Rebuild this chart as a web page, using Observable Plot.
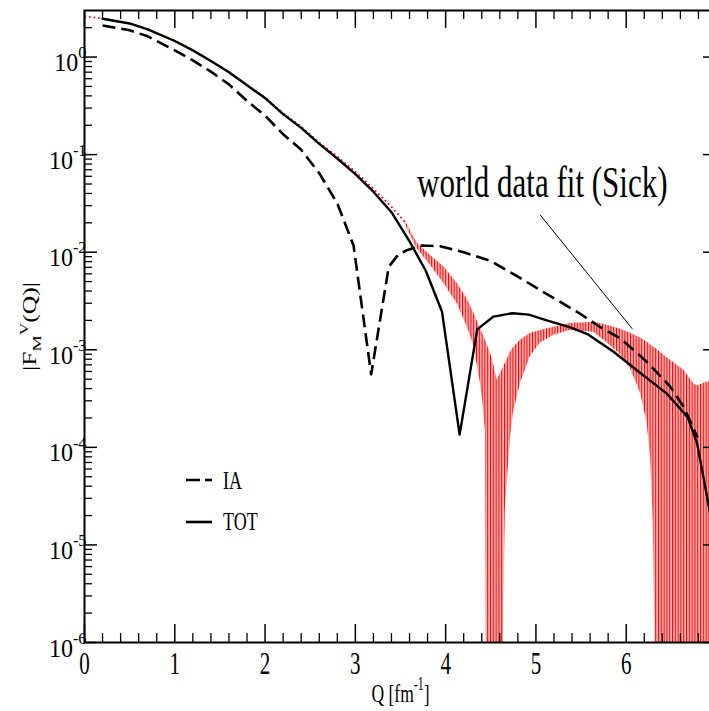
<!DOCTYPE html>
<html><head><meta charset="utf-8">
<script src="https://cdn.jsdelivr.net/npm/d3@7"></script>
<script src="https://cdn.jsdelivr.net/npm/@observablehq/plot@0.6"></script>
<style>
html,body{margin:0;padding:0;background:#fff;overflow:hidden;}
#chart{position:relative;width:709px;height:711px;overflow:hidden;}
#chart svg{max-width:none !important;}
</style></head><body><div id="chart"></div>
<script>
// ---- data ----
const totQ = [0.2,0.5,0.7,1.0,1.2,1.4,1.6,1.8,2.0,2.2,2.4,2.6,2.8,3.0,3.2,3.4,3.6,3.78,3.96,4.155,4.35,4.53,4.74,4.92,5.12,5.38,5.57,5.86,6.16,6.45,6.68,6.785,6.93,7.0];
const totF = [2.47,2.21,1.92,1.46,1.17,0.912,0.700,0.513,0.380,0.260,0.188,0.129,0.0912,0.0631,0.0417,0.0257,0.0129,0.00646,0.00245,0.000135,0.00162,0.00219,0.00237,0.00229,0.00200,0.00170,0.00145,0.000955,0.000575,0.000355,0.000204,0.000110,0.0000209,0.0000089];

const iaQ = [0.2,0.5,0.7,1.0,1.2,1.4,1.6,1.8,2.0,2.2,2.4,2.6,2.8,2.98,3.175,3.37,3.47,3.57,3.74,3.94,4.2,4.5,4.8,5.05,5.27,5.49,5.71,5.94,6.23,6.49,6.64,6.79];
const iaF = [2.11,1.88,1.63,1.17,0.925,0.708,0.525,0.355,0.251,0.162,0.112,0.0646,0.0316,0.0117,0.000560,0.00708,0.00933,0.0105,0.0117,0.0115,0.0100,0.00813,0.00562,0.00407,0.00309,0.00234,0.00171,0.00130,0.000750,0.000417,0.000257,0.000126];

const fitQ = [0.0,0.2,0.5,0.7,1.0,1.2,1.4,1.6,1.8,2.0,2.2,2.4,2.6,2.8,3.0,3.2,3.4,3.55];
const fitF = [2.62,2.48,2.21,1.93,1.47,1.18,0.916,0.703,0.519,0.385,0.266,0.193,0.133,0.0955,0.0668,0.0447,0.0292,0.0204];

const bandQ = [3.55,3.68,3.83,3.98,4.13,4.24,4.31,4.38,4.41,4.44,4.45,4.52,4.57,4.62,4.64,4.66,4.72,4.75,4.83,4.94,5.05,5.20,5.38,5.64,5.79,5.94,6.05,6.16,6.23,6.27,6.30,6.32,6.45,6.64,6.75,6.79,6.90,7.0];
const bandUpper = [0.0211,0.0126,0.00933,0.00708,0.00479,0.00331,0.00240,0.00170,0.00148,0.00126,0.00120,0.000794,0.000490,0.000603,0.000661,0.000724,0.000955,0.00105,0.00126,0.00148,0.00158,0.00170,0.00186,0.00191,0.00178,0.00162,0.00148,0.00132,0.00120,0.00112,0.00107,0.00105,0.000832,0.000617,0.000447,0.000427,0.000468,0.000468];
const bandLower = [0.0195,0.0110,0.00741,0.00479,0.00295,0.00170,0.00112,0.000490,0.000302,0.000148,1e-6,1e-6,1e-6,1e-6,1e-6,0.0000229,0.000129,0.000224,0.000457,0.000851,0.00117,0.00141,0.00158,0.00151,0.00117,0.000891,0.000631,0.000355,0.000182,0.0000794,0.0000166,1e-6,1e-6,1e-6,1e-6,1e-6,1e-6,1e-6];

const xMajor = [0,1,2,3,4,5,6,7];
const xMinor = [0.2,0.4,0.6,0.8,1.2,1.4,1.6,1.8,2.2,2.4,2.6,2.8,3.2,3.4,3.6,3.8,4.2,4.4,4.6,4.8,5.2,5.4,5.6,5.8,6.2,6.4,6.6,6.8];
const xTickVals = [0,1,2,3,4,5,6];
const xTickLabels = ["0","1","2","3","4","5","6"];
const yMajor = [1e-6,1e-5,1e-4,1e-3,1e-2,1e-1,1];
const yTickLabels = ["10^{-6}","10^{-5}","10^{-4}","10^{-3}","10^{-2}","10^{-1}","10^{0}"];
const yMinorMant = [2,3,4,5,6,7,8,9];
const yMinor = [];
for (const p of [-6,-5,-4,-3,-2,-1]) for (const m of yMinorMant) yMinor.push(m*Math.pow(10,p));
yMinor.push(2);

const xLabel = "Q [fm^{-1}]";
const yLabel = "|F_{M}^{V}(Q)|";
const annotText = ["world data fit (Sick)"];
const annotTextQ = [5.07];
const annotTextF = [0.0366];
const annotLineQ = [5.05, 6.065];
const annotLineF = [0.0239, 0.00165];
const legendLabels = ["IA","TOT"];

// ---- layout ----
const W = 720, H = 711;
const mL = 84, mR = 4, mT = 10, mB = 69;
const plotW = W - mL - mR, plotH = H - mT - mB;
const SERIF = "'Liberation Serif','Times New Roman',serif";
const NS = "http://www.w3.org/2000/svg";

const tot = totQ.map((q,i)=>({q, f: totF[i]}));
const ia = iaQ.map((q,i)=>({q, f: iaF[i]}));
const fit = fitQ.map((q,i)=>({q, f: fitF[i]}));
const band = bandQ.map((q,i)=>({q, lo: bandLower[i], hi: bandUpper[i]}));

const svg = Plot.plot({
  width: W, height: H,
  marginLeft: mL, marginRight: mR, marginTop: mT, marginBottom: mB,
  style: {fontFamily: SERIF, background: "white", overflow: "visible", maxWidth: "none"},
  x: {domain: [0, 7], axis: null},
  y: {type: "log", domain: [1e-6, 3], axis: null},
  marks: [
    Plot.areaY(band, {x: "q", y1: "lo", y2: "hi", fill: "url(#hatch)", clip: true}),
    Plot.line(fit, {x: "q", y: "f", stroke: "#ff0000", strokeWidth: 1.8, strokeDasharray: "1.6,3", strokeLinecap: "butt", clip: true}),
    Plot.line(ia, {x: "q", y: "f", stroke: "black", strokeWidth: 2.6, strokeDasharray: "13,6", strokeLinecap: "butt", clip: true}),
    Plot.line(tot, {x: "q", y: "f", stroke: "black", strokeWidth: 2.4, clip: true}),
    Plot.line(annotLineQ.map((q,i)=>({q, f: annotLineF[i]})), {x: "q", y: "f", stroke: "black", strokeWidth: 1}),
    // ticks (inward)
    Plot.ruleX(xMajor, {stroke: "black", strokeWidth: 1.5, insetTop: plotH - 18}),
    Plot.ruleX(xMinor, {stroke: "black", strokeWidth: 1.3, insetTop: plotH - 9}),
    Plot.ruleX(xMajor, {stroke: "black", strokeWidth: 1.5, insetBottom: plotH - 18}),
    Plot.ruleX(xMinor, {stroke: "black", strokeWidth: 1.3, insetBottom: plotH - 9}),
    Plot.ruleY(yMajor, {stroke: "black", strokeWidth: 1.5, insetRight: plotW - 13}),
    Plot.ruleY(yMinor, {stroke: "black", strokeWidth: 1.3, insetRight: plotW - 8}),
    Plot.ruleY(yMajor, {stroke: "black", strokeWidth: 1.5, insetLeft: plotW - 13}),
    Plot.frame({stroke: "black", strokeWidth: 2}),
    // labels
    Plot.text(xTickVals, {x: d => d, text: (d,i) => xTickLabels[i], frameAnchor: "bottom", textAnchor: "middle", lineAnchor: "bottom", dy: 31, fontSize: 21, fill: "black", ariaDescription: "xlab"}),
    Plot.text(yMajor, {y: d => d, text: (d,i) => yTickLabels[i], frameAnchor: "left", textAnchor: "end", lineAnchor: "bottom", dx: 2, dy: 14, fontSize: 24, fill: "black", ariaDescription: "ylab"}),
    Plot.text([xLabel], {text: d => d, frameAnchor: "bottom", textAnchor: "middle", lineAnchor: "bottom", dy: 59, fontSize: 17.5, fill: "black", ariaDescription: "xtitle"}),
    Plot.text([yLabel], {text: d => d, frameAnchor: "left", textAnchor: "middle", rotate: -90, lineAnchor: "middle", dx: -54, fontSize: 18, fill: "black", ariaDescription: "ytitle"}),
    Plot.text(annotText, {x: (d,i) => annotTextQ[i], y: (d,i) => annotTextF[i], text: d => d, lineAnchor: "bottom", textAnchor: "middle", fontSize: 31, fill: "black", ariaDescription: "annot"})
  ]
});
svg.style.maxWidth = "none";

// hatch pattern for the error band
const defs = document.createElementNS(NS, "defs");
defs.innerHTML = `<pattern id="hatch" patternUnits="userSpaceOnUse" x="${mL}" y="0" width="2.8" height="20"><rect width="2.8" height="20" fill="#ffbcbc"/><rect width="1.1" height="20" fill="#ff0000"/></pattern>`;
svg.insertBefore(defs, svg.firstChild);

function richText(el, str, base, supShift) {
  el.textContent = "";
  const re = /([\^_])\{([^}]*)\}|([^\^_]+)/g;
  let m, cur = 0;
  while ((m = re.exec(str))) {
    const t = document.createElementNS(NS, "tspan");
    let target = 0, fs = base;
    if (m[1] === "^") { target = -supShift * base; fs = 0.68 * base; t.textContent = m[2]; }
    else if (m[1] === "_") { target = 0.28 * base; fs = 0.72 * base; t.textContent = m[2]; }
    else t.textContent = m[3];
    t.setAttribute("font-size", fs);
    if (target !== cur) t.setAttribute("dy", target - cur);
    cur = target;
    el.appendChild(t);
  }
}
function fix(label, base, sx, sy, supShift = 0.45) {
  svg.querySelectorAll(`[aria-description="${label}"] text`).forEach(el => {
    const s = el.textContent;
    if (/[\^_]\{/.test(s)) richText(el, s, base, supShift);
    const tr = el.getAttribute("transform") || "";
    el.setAttribute("transform", `${tr} scale(${sx},${sy})`);
  });
}
fix("xlab", 21, 1, 1.48);
fix("ylab", 24, 1, 1.06, 0.5);
fix("xtitle", 17.5, 1, 1.5);
fix("ytitle", 18, 1.42, 1);
fix("annot", 31, 1, 1.45);

// legend
const lg = document.createElementNS(NS, "g");
lg.setAttribute("font-family", SERIF);
lg.setAttribute("text-anchor", "start");
const legY = [480, 522], legTextY = [489, 530];
legendLabels.forEach((lab, i) => {
  const ln = document.createElementNS(NS, "line");
  ln.setAttribute("x1", 186); ln.setAttribute("x2", 212);
  ln.setAttribute("y1", legY[i]); ln.setAttribute("y2", legY[i]);
  ln.setAttribute("stroke", "black"); ln.setAttribute("stroke-width", 2.6);
  if (i === 0) ln.setAttribute("stroke-dasharray", "14,5");
  lg.appendChild(ln);
  const tx = document.createElementNS(NS, "text");
  tx.setAttribute("transform", `translate(223,${legTextY[i]}) scale(1,1.42)`);
  tx.setAttribute("font-size", 18);
  tx.setAttribute("text-anchor", "start");
  tx.textContent = lab;
  lg.appendChild(tx);
});
svg.appendChild(lg);

document.getElementById("chart").appendChild(svg);
</script></body></html>
